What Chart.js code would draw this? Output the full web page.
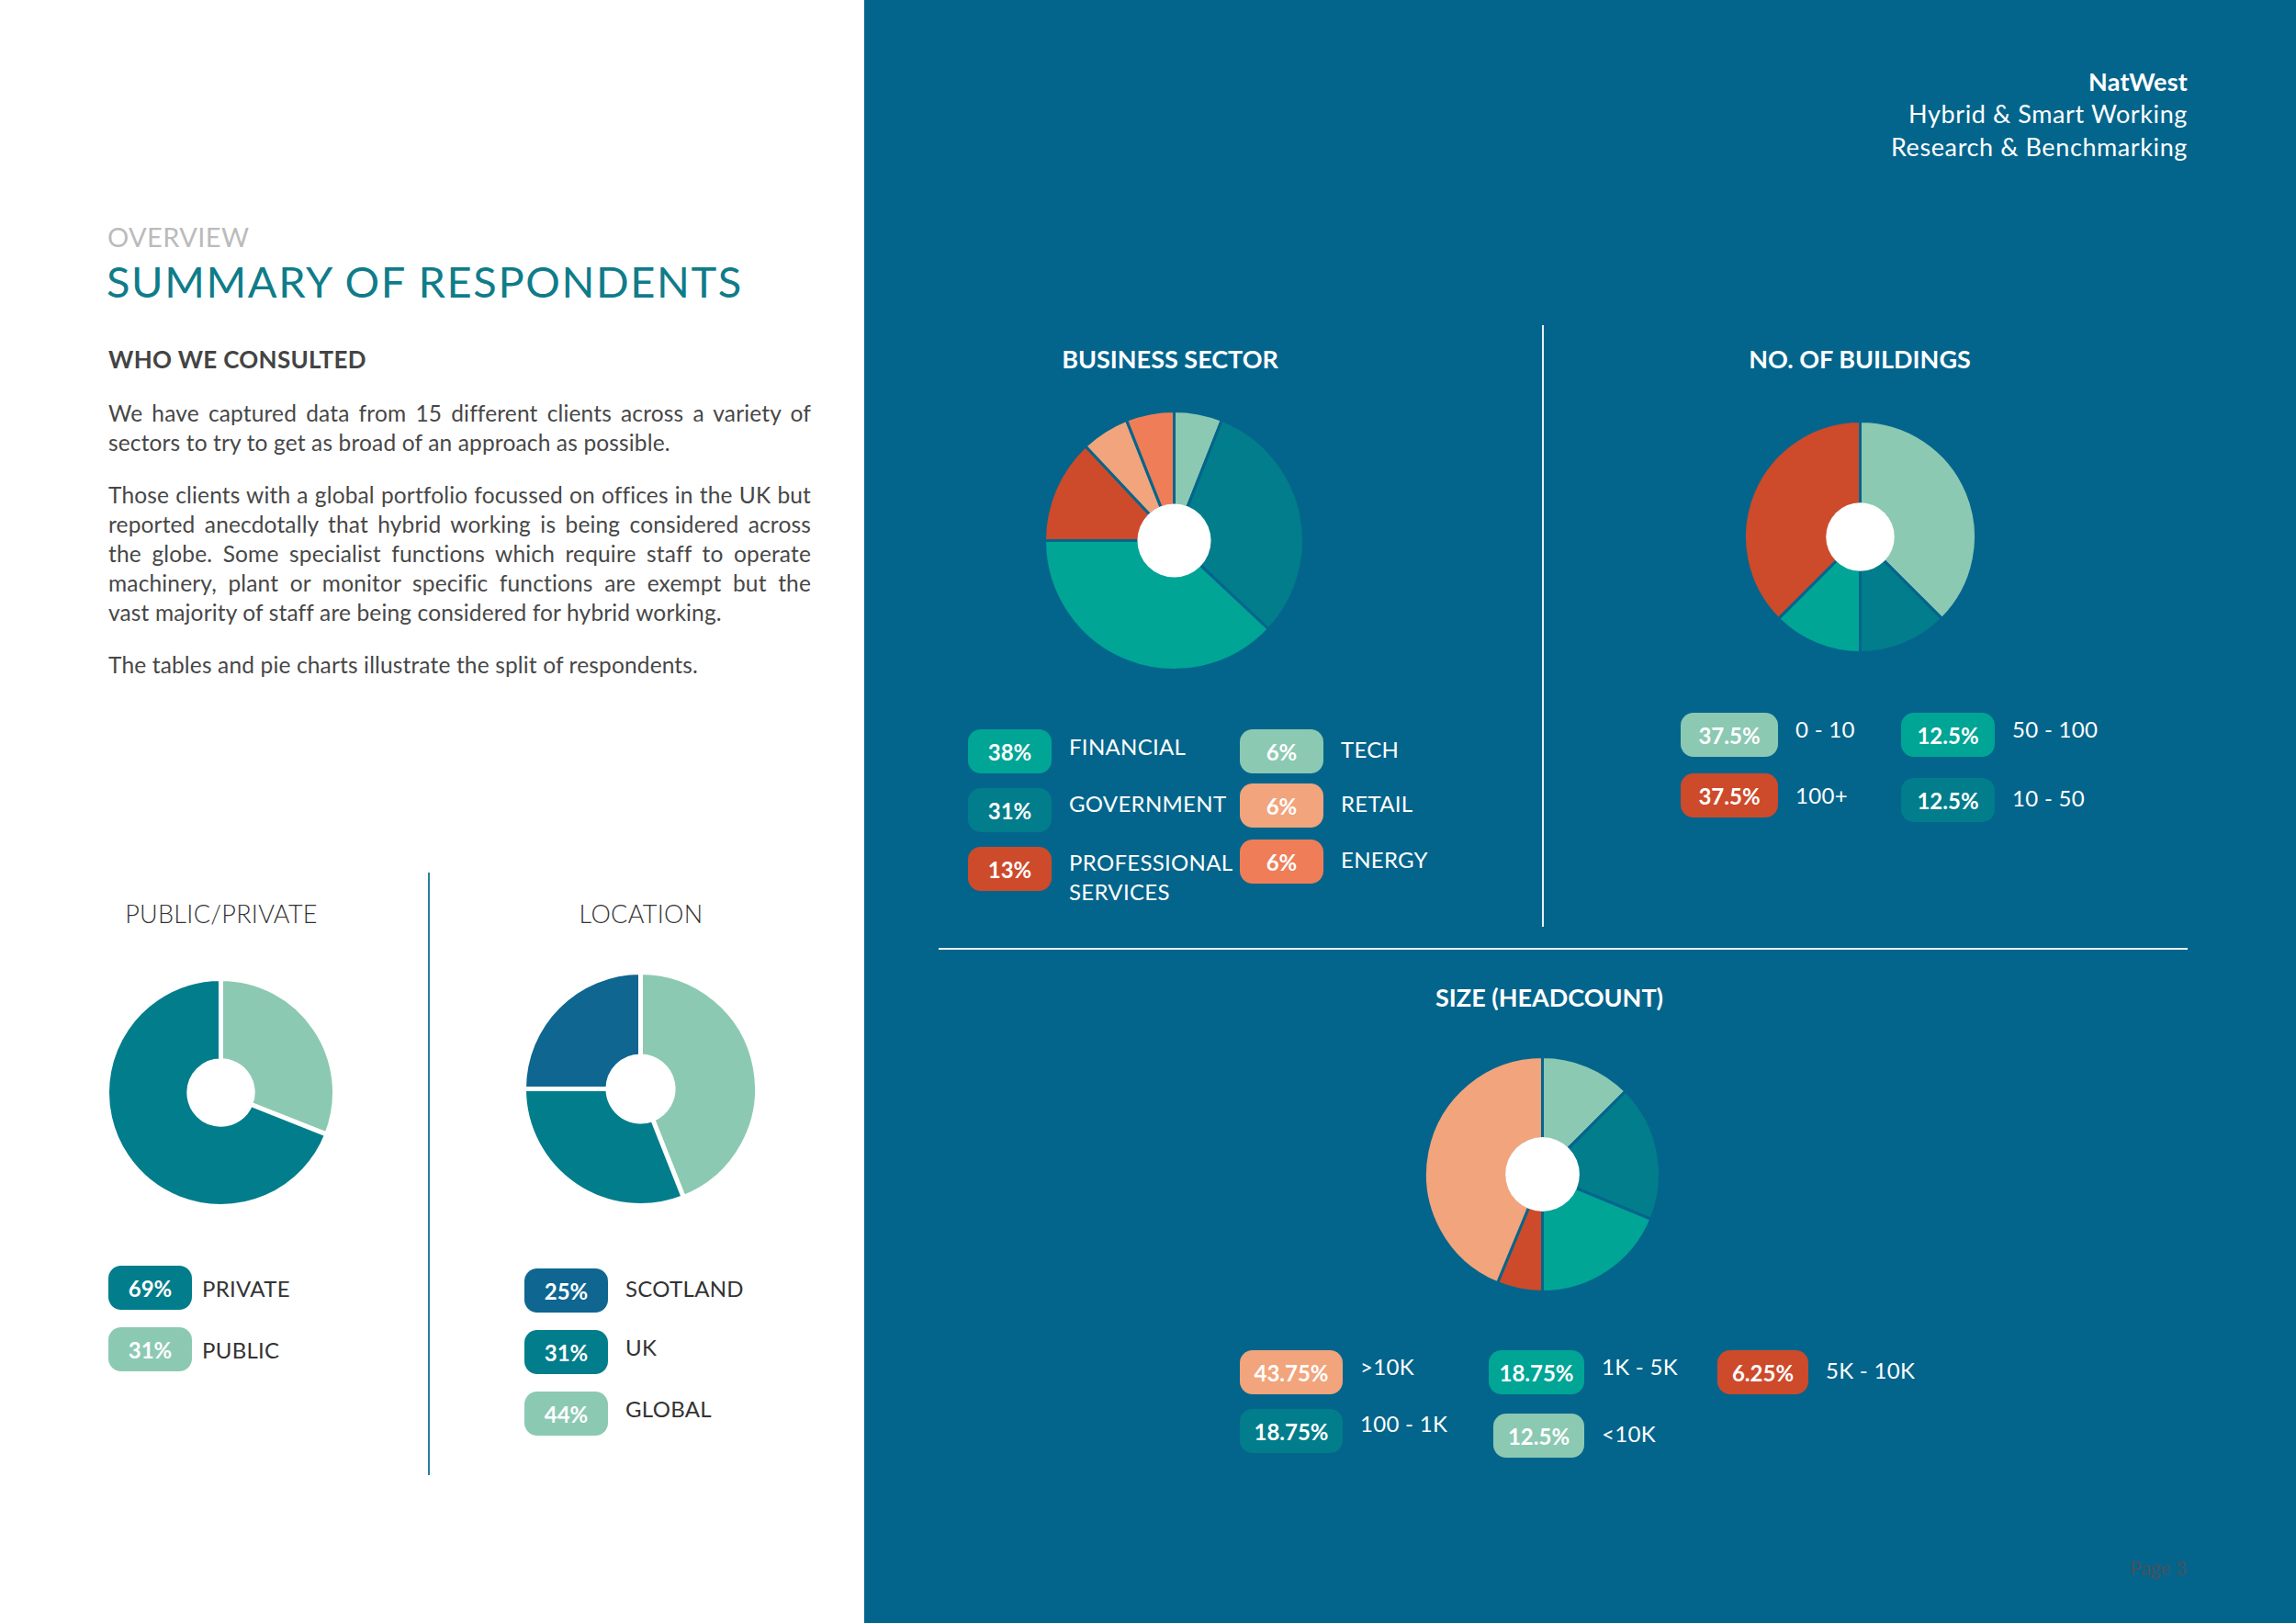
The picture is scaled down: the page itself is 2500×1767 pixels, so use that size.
<!DOCTYPE html>
<html>
<head>
<meta charset="utf-8">
<script src="https://cdn.jsdelivr.net/npm/chart.js@4.4.1/dist/chart.umd.min.js"></script>
<style>
  body { margin: 0; width: 2500px; height: 1767px; overflow: hidden; position: relative; background: #fff; font-family: Lato, "Open Sans", sans-serif; }
  #blue { position: absolute; left: 941px; top: 0; width: 1559px; height: 1767px; background: #04658c; }
  .abs { position: absolute; white-space: nowrap; }
  canvas { position: absolute; }
  .pill { position: absolute; height: 48px; border-radius: 14px; color: #fff; font-weight: 700; font-size: 24px; line-height: 50px; text-align: center; }
  .lab { position: absolute; font-size: 24px; line-height: 32px; font-weight: 400; letter-spacing: 0.3px; color: #fff; }
  .dark .lab, .lab.dark { color: #333; }
  .ttl { position: absolute; width: 600px; text-align: center; font-size: 27px; line-height: 36px; }
  .para { position: absolute; left: 118px; width: 765px; font-size: 24.5px; line-height: 32px; color: #474747; font-weight: 400; letter-spacing: 0.15px; }
  .para span { display: block; white-space: nowrap; text-align: justify; text-align-last: justify; }
  .para span.last { text-align-last: left; }
  .hdr { position: absolute; right: 118px; text-align: right; color: #fff; font-size: 27px; line-height: 36px; letter-spacing: 0.6px; }
</style>
</head>
<body>
<div id="blue"></div>

<!-- left page text -->
<div class="abs" style="left:117px;top:240px;font-size:29px;line-height:36px;color:#bbb;font-weight:400;letter-spacing:0.4px">OVERVIEW</div>
<div class="abs" style="left:116px;top:278px;font-size:47px;line-height:56px;color:#0f7c8a;font-weight:400;letter-spacing:1.6px">SUMMARY OF RESPONDENTS</div>
<div class="abs" style="left:118px;top:373px;font-size:26px;line-height:36px;color:#444;font-weight:700;letter-spacing:0.3px">WHO WE CONSULTED</div>
<div class="para" style="top:434px">
  <span>We have captured data from 15 different clients across a variety of</span>
  <span class="last">sectors to try to get as broad of an approach as possible.</span>
</div>
<div class="para" style="top:523px">
  <span>Those clients with a global portfolio focussed on offices in the UK but</span>
  <span>reported anecdotally that hybrid working is being considered across</span>
  <span>the globe. Some specialist functions which require staff to operate</span>
  <span>machinery, plant or monitor specific functions are exempt but the</span>
  <span class="last">vast majority of staff are being considered for hybrid working.</span>
</div>
<div class="para" style="top:708px">
  <span class="last">The tables and pie charts illustrate the split of respondents.</span>
</div>

<div class="ttl" style="left:-59px;top:977px;color:#333;font-weight:300;letter-spacing:0.3px">PUBLIC/PRIVATE</div>
<div class="ttl" style="left:398px;top:977px;color:#333;font-weight:300;letter-spacing:0.3px">LOCATION</div>
<div class="abs" style="left:466px;top:950px;width:2px;height:656px;background:#2a7f9a"></div>

<!-- right page text -->
<div class="hdr" style="top:71px;font-weight:700;letter-spacing:0.2px">NatWest</div>
<div class="hdr" style="top:106px;font-weight:400">Hybrid &amp; Smart Working</div>
<div class="hdr" style="top:142px;font-weight:400">Research &amp; Benchmarking</div>

<div class="ttl" style="left:974px;top:373px;color:#fff;font-weight:700">BUSINESS SECTOR</div>
<div class="ttl" style="left:1725px;top:373px;color:#fff;font-weight:700">NO. OF BUILDINGS</div>
<div class="ttl" style="left:1387px;top:1068px;color:#fff;font-weight:700">SIZE (HEADCOUNT)</div>

<div class="abs" style="left:1679px;top:354px;width:2px;height:655px;background:#e8f0f4"></div>
<div class="abs" style="left:1022px;top:1032px;width:1360px;height:2px;background:#e8f0f4"></div>

<div class="abs" style="right:119px;top:1694px;font-size:21px;line-height:26px;color:#46525c">Page 3</div>

<canvas id="sector"></canvas>
<canvas id="buildings"></canvas>
<canvas id="headcount"></canvas>
<canvas id="pubpriv"></canvas>
<canvas id="location"></canvas>
<div id="legends"></div>

<script>
// ---- data ----
const sectorLabels = ["TECH", "GOVERNMENT", "FINANCIAL", "PROFESSIONAL SERVICES", "RETAIL", "ENERGY"];
const sectorValues = [6, 31, 38, 13, 6, 6];

const buildingLabels = ["0 - 10", "10 - 50", "50 - 100", "100+"];
const buildingValues = [37.5, 12.5, 12.5, 37.5];

const headcountLabels = ["<10K", "100 - 1K", "1K - 5K", "5K - 10K", ">10K"];
const headcountValues = [12.5, 18.75, 18.75, 6.25, 43.75];

const sectorTypeLabels = ["PUBLIC", "PRIVATE"];
const sectorTypeValues = [31, 69];

const locationLabels = ["GLOBAL", "UK", "SCOTLAND"];
const locationValues = [44, 31, 25];

// ---- colours ----
const BG = "#04658c";
const MINT = "#8cc9b3", DTEAL = "#027d8b", TEAL = "#00a596", RED = "#cd4a2b",
      LORANGE = "#f2a47c", ORANGE = "#ef7e58", NAVY = "#0f6690";

const sectorColors = [MINT, DTEAL, TEAL, RED, LORANGE, ORANGE];
const buildingColors = [MINT, DTEAL, TEAL, RED];
const headcountColors = [MINT, DTEAL, TEAL, RED, LORANGE];
const sectorTypeColors = [MINT, DTEAL];
const locationColors = [MINT, DTEAL, NAVY];

// fill the doughnut hole (white on the blue page)
const holePlugin = {
  id: "hole",
  afterDatasetsDraw(chart, args, opts) {
    if (!opts || !opts.color) return;
    const arc = chart.getDatasetMeta(0).data[0];
    if (!arc) return;
    const ctx = chart.ctx;
    ctx.save();
    ctx.fillStyle = opts.color;
    ctx.beginPath();
    ctx.arc(arc.x, arc.y, arc.innerRadius + (opts.pad || 0), 0, Math.PI * 2);
    ctx.fill();
    ctx.restore();
  }
};

function pie(id, cx, cy, r, bw, cutout, labels, values, colors, border, hole) {
  const size = 2 * r + bw;
  const cv = document.getElementById(id);
  cv.width = size;
  cv.height = size;
  cv.style.left = (cx - size / 2) + "px";
  cv.style.top = (cy - size / 2) + "px";
  return new Chart(cv, {
    type: "doughnut",
    data: {
      labels,
      datasets: [{
        data: values,
        backgroundColor: colors,
        borderColor: border,
        borderWidth: bw,
        hoverOffset: 0,
      }],
    },
    options: {
      responsive: false,
      animation: false,
      cutout,
      layout: { padding: 0 },
      plugins: {
        legend: { display: false },
        tooltip: { enabled: false },
        hole: { color: hole, pad: bw / 2 + 0.5 },
      },
    },
    plugins: [holePlugin],
  });
}

pie("sector", 1278, 588, 141, 3, "27%", sectorLabels, sectorValues, sectorColors, BG, "#fff");
pie("buildings", 2025, 584, 126, 3, "28%", buildingLabels, buildingValues, buildingColors, BG, "#fff");
pie("headcount", 1679, 1278, 128, 3, "30%", headcountLabels, headcountValues, headcountColors, BG, "#fff");
pie("pubpriv", 240, 1189, 124, 5, "28%", sectorTypeLabels, sectorTypeValues, sectorTypeColors, "#fff", null);
pie("location", 697, 1185, 127, 5, "28%", locationLabels, locationValues, locationColors, "#fff", null);

// ---- legend pills: [index, pillX, pillY, pillW, labelX, labelCenterY] ----
function legend(labels, values, colors, layout, dark) {
  const box = document.getElementById("legends");
  layout.forEach(([i, px, py, pw, lx, ly]) => {
    const p = document.createElement("div");
    p.className = "pill";
    p.style.left = px + "px";
    p.style.top = py + "px";
    p.style.width = pw + "px";
    p.style.background = colors[i];
    p.textContent = values[i] + "%";
    box.appendChild(p);

    const l = document.createElement("div");
    l.className = "lab" + (dark ? " dark" : "");
    l.style.left = lx + "px";
    l.style.top = (ly - 16) + "px";
    l.style.width = "190px";
    l.textContent = labels[i];
    box.appendChild(l);
  });
}

legend(sectorLabels, sectorValues, sectorColors, [
  [2, 1054, 794, 91, 1164, 813],
  [1, 1054, 858, 91, 1164, 875],
  [3, 1054, 922, 91, 1164, 939],
  [0, 1350, 794, 91, 1460, 816],
  [4, 1350, 853, 91, 1460, 875],
  [5, 1350, 914, 91, 1460, 936],
]);
legend(buildingLabels, buildingValues, buildingColors, [
  [0, 1830, 776, 106, 1955, 794],
  [3, 1830, 842, 106, 1955, 866],
  [2, 2070, 776, 102, 2191, 794],
  [1, 2070, 847, 102, 2191, 869],
]);
legend(headcountLabels, headcountValues, headcountColors, [
  [4, 1350, 1470, 112, 1481, 1488],
  [1, 1350, 1534, 112, 1481, 1550],
  [2, 1621, 1470, 104, 1744, 1488],
  [0, 1626, 1539, 99, 1744, 1561],
  [3, 1870, 1470, 99, 1988, 1492],
]);
legend(sectorTypeLabels, sectorTypeValues, sectorTypeColors, [
  [1, 118, 1378, 91, 220, 1403],
  [0, 118, 1445, 91, 220, 1470],
], true);
legend(locationLabels, locationValues, locationColors, [
  [2, 571, 1381, 91, 681, 1403],
  [1, 571, 1448, 91, 681, 1467],
  [0, 571, 1515, 91, 681, 1534],
], true);
</script>
</body>
</html>
